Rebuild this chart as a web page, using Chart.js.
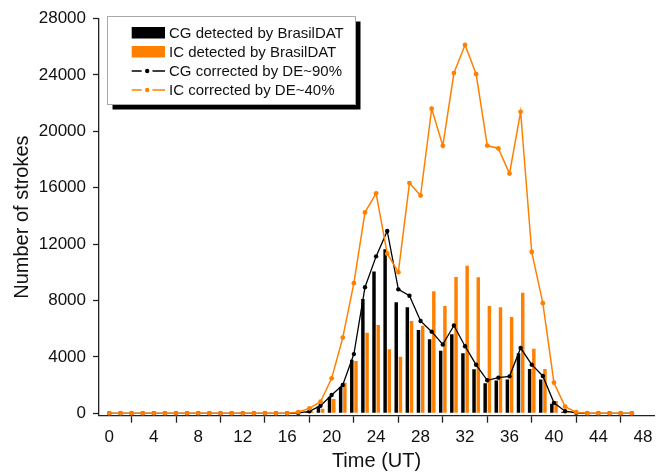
<!DOCTYPE html>
<html>
<head>
<meta charset="utf-8">
<script src="https://cdn.jsdelivr.net/npm/chart.js@4/dist/chart.umd.min.js"></script>
<style>
  html, body { margin: 0; padding: 0; background: #fff; }
  #wrap { width: 661px; height: 472px; }
</style>
</head>
<body>
<div id="wrap"><canvas id="strokes-chart" width="661" height="472"></canvas></div>
<script>
// Hourly stroke counts (UT hours 0..47)
const hours = [0,1,2,3,4,5,6,7,8,9,10,11,12,13,14,15,16,17,18,19,20,21,22,23,24,25,26,27,28,29,30,31,32,33,34,35,36,37,38,39,40,41,42,43,44,45,46,47];

const cgDetected = [0,0,0,0,0,0,0,0,0,0,0,0,0,0,0,0,0,0,100,480,1180,1890,3790,8100,10060,11630,7880,7530,5900,5260,4430,5610,4260,3120,2130,2320,2390,4260,3150,2390,680,110,0,0,0,0,0,0];
const icDetected = [0,0,0,0,0,0,0,0,0,0,0,0,0,0,0,0,0,0,140,330,1010,2170,3710,5720,6260,4540,4010,6550,6210,8650,7610,9670,10470,9650,7610,7520,6830,8550,4580,3140,870,150,40,0,0,0,0,0];
const cgCorrected = [0,0,0,0,0,0,0,0,0,0,0,0,0,0,0,0,0,30,140,540,1300,2010,4200,8940,11130,12930,8790,8340,6550,5790,4880,6230,4760,3440,2340,2530,2620,4630,3450,2650,740,150,40,0,0,0,0,0];
const icCorrected = [0,0,0,0,0,0,0,0,0,0,0,0,0,0,0,0,0,90,350,820,2480,5370,9230,14250,15600,11320,10010,16330,15440,21600,18970,24130,26120,24060,18990,18780,17000,21380,11440,7810,2170,470,80,0,0,0,0,0];

const seriesLabels = ['CG detected by BrasilDAT', 'IC detected by BrasilDAT', 'CG corrected by DE~90%', 'IC corrected by DE~40%'];

const xTicks = [0,4,8,12,16,20,24,28,32,36,40,44,48];
const yTicks = [0,4000,8000,12000,16000,20000,24000,28000];

const BLACK = '#000000';
const ORANGE = '#ff8000';
const AXIS = '#222222';
const FONT = "'Liberation Sans', Arial, sans-serif";

const toPoints = vals => hours.map((h, i) => ({ x: h, y: vals[i] }));

// Boxed legend with a drop shadow, bar swatches and line+dot swatches
const boxLegend = {
    id: 'boxLegend',
    afterDraw(chart) {
        const ctx = chart.ctx;
        const x0 = 107.5, y0 = 16.5, w = 248, h = 88;
        ctx.save();
        ctx.fillStyle = '#000';
        ctx.fillRect(x0 + 5, y0 + 5, w, h);
        ctx.fillStyle = '#fff';
        ctx.fillRect(x0, y0, w, h);
        ctx.strokeStyle = '#aaaaaa';
        ctx.lineWidth = 1;
        ctx.strokeRect(x0, y0, w, h);

        ctx.font = '15px ' + FONT;
        ctx.textBaseline = 'alphabetic';
        ctx.textAlign = 'left';
        chart.data.datasets.forEach((ds, i) => {
            const base = 38.3 + i * 19;
            const color = ds.borderColor || ds.backgroundColor;
            if (ds.type === 'bar') {
                ctx.fillStyle = ds.backgroundColor;
                ctx.fillRect(131.7, base - 11.3, 33.3, 11.5);
            } else {
                const cy = base - 5.3;
                ctx.strokeStyle = color;
                ctx.lineWidth = 1.4;
                ctx.beginPath();
                ctx.moveTo(131.7, cy); ctx.lineTo(141.7, cy);
                ctx.moveTo(152.5, cy); ctx.lineTo(165, cy);
                ctx.stroke();
                ctx.fillStyle = color;
                ctx.beginPath();
                ctx.arc(147.2, cy, 2.2, 0, Math.PI * 2);
                ctx.fill();
            }
            ctx.fillStyle = '#111';
            ctx.fillText(ds.label, 169, base);
        });
        ctx.restore();
    }
};

const ctx = document.getElementById('strokes-chart').getContext('2d');

new Chart(ctx, {
    type: 'bar',
    data: {
        datasets: [
            {
                type: 'bar',
                label: seriesLabels[0],
                data: toPoints(cgDetected),
                backgroundColor: BLACK,
                borderWidth: 0,
                categoryPercentage: 0.76,
                barPercentage: 0.82,
                order: 3
            },
            {
                type: 'bar',
                label: seriesLabels[1],
                data: toPoints(icDetected),
                backgroundColor: ORANGE,
                borderWidth: 0,
                categoryPercentage: 0.76,
                barPercentage: 0.82,
                order: 3
            },
            {
                type: 'line',
                label: seriesLabels[2],
                data: toPoints(cgCorrected),
                borderColor: BLACK,
                backgroundColor: BLACK,
                borderWidth: 1.3,
                pointRadius: 2.2,
                pointBorderWidth: 0,
                pointBackgroundColor: BLACK,
                tension: 0,
                order: 1
            },
            {
                type: 'line',
                label: seriesLabels[3],
                data: toPoints(icCorrected),
                borderColor: ORANGE,
                backgroundColor: ORANGE,
                borderWidth: 1.5,
                pointRadius: 2.4,
                pointBorderWidth: 0,
                pointBackgroundColor: ORANGE,
                tension: 0,
                order: 0
            }
        ]
    },
    options: {
        responsive: false,
        animation: false,
        layout: { padding: { top: 18.5, right: 7, bottom: 0, left: 0 } },
        plugins: {
            legend: { display: false },
            tooltip: { enabled: false }
        },
        scales: {
            x: {
                type: 'linear',
                offset: false,
                min: -0.93,
                max: 49,
                afterBuildTicks: s => { s.ticks = xTicks.map(v => ({ value: v })); },
                afterFit: s => { s.height = 56.3; },
                border: { color: AXIS, width: 1.3 },
                grid: { drawOnChartArea: false, tickLength: 7, color: AXIS, tickWidth: 1.3 },
                ticks: {
                    autoSkip: false, maxRotation: 0, padding: 4,
                    color: '#111', font: { family: FONT, size: 17 },
                    callback: v => String(v)
                },
                title: {
                    display: true, text: 'Time (UT)', color: '#111',
                    font: { family: FONT, size: 20 }, padding: { top: 0, bottom: -1 }
                }
            },
            y: {
                min: -170,
                max: 28000,
                afterBuildTicks: s => { s.ticks = yTicks.map(v => ({ value: v })); },
                afterFit: s => { s.width = 99; },
                border: { color: AXIS, width: 1.3 },
                grid: { drawOnChartArea: false, tickLength: 6, color: AXIS, tickWidth: 1.3 },
                ticks: {
                    autoSkip: false, padding: 7,
                    color: '#111', font: { family: FONT, size: 17 },
                    callback: v => String(v)
                },
                title: {
                    display: true, text: 'Number of strokes', color: '#111',
                    font: { family: FONT, size: 20 }, padding: { top: 10, bottom: 0 }
                }
            }
        }
    },
    plugins: [boxLegend]
});
</script>
</body>
</html>
